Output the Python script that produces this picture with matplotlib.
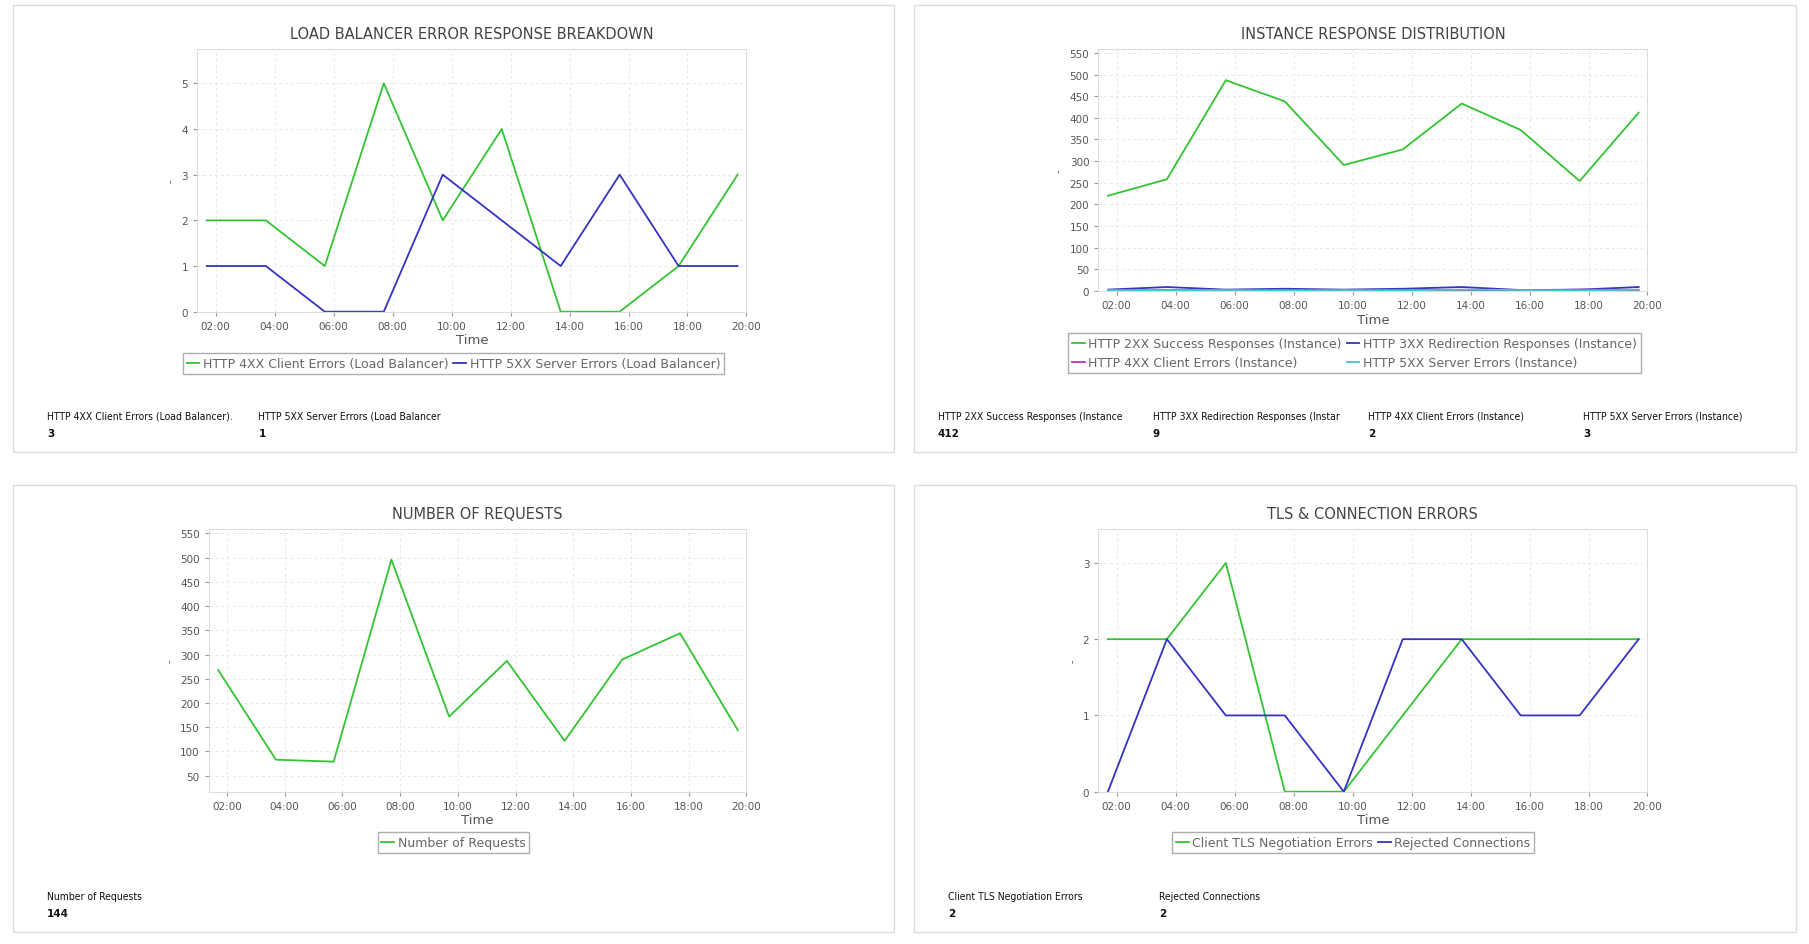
import numpy as np
import matplotlib
matplotlib.use("Agg")
from matplotlib import pyplot as plt
from matplotlib.patches import Rectangle

W, H = 1568.0, 819.0   # layout measured on the scaled reference

hours = np.arange(10) * 2 + 1.7
tick_hours = np.arange(2, 21, 2)
tick_labels = [f"{h:02d}:00" for h in tick_hours]

lb_4xx = [2, 2, 1, 5, 2, 4, 0, 0, 1, 3]
lb_5xx = [1, 1, 0, 0, 3, 2, 1, 3, 1, 1]

inst_2xx = [220, 258, 487, 438, 291, 327, 433, 372, 254, 412]
inst_3xx = [3, 9, 3, 5, 3, 5, 9, 2, 3, 9]
inst_4xx = [1, 2, 1, 2, 1, 2, 2, 1, 3, 2]
inst_5xx = [2, 1, 2, 1, 2, 1, 3, 2, 1, 3]

requests = [268, 83, 79, 496, 172, 287, 122, 290, 344, 144]

tls_err = [2, 2, 3, 0, 0, 1, 2, 2, 2, 2]
rejected = [0, 2, 1, 1, 0, 2, 2, 1, 1, 2]

GREEN, BLUE, MAGENTA, CYAN = "#33c433", "#3333c4", "#c433c4", "#44c4c4"

fig = plt.figure(figsize=(18.09, 9.45), dpi=100)


def fx(x):
    return x / W


def fy(y):
    return 1 - y / H


def panel(x0, y0, x1, y1):
    fig.patches.append(Rectangle((fx(x0), fy(y1)), fx(x1) - fx(x0), fy(y0) - fy(y1),
                                 transform=fig.transFigure, fill=False,
                                 edgecolor="#dddddd", lw=1))


def chart(box, title, series, ylim, yticks, legend_xy, ncol, order=None):
    x0, y0, x1, y1 = box
    ax = fig.add_axes([fx(x0), fy(y1), fx(x1) - fx(x0), fy(y0) - fy(y1)])
    for vals, col, lab in series:
        ax.plot(hours, vals, color=col, lw=1.3, label=lab)
    ax.set_xlim(1.375, 20.0)
    ax.set_ylim(*ylim)
    ax.set_xticks(tick_hours)
    ax.set_xticklabels(tick_labels)
    ax.set_yticks(yticks)
    ax.tick_params(labelsize=7.5, colors="#555555", length=3, color="#999999")
    ax.grid(True, ls=(0, (3, 3)), color="#e8e8e8", lw=0.7)
    for s in ax.spines.values():
        s.set_color("#dddddd")
    ax.set_xlabel("Time", fontsize=9.5, color="#555555", labelpad=2)
    ax.set_ylabel("-", fontsize=7, color="#555555")
    fig.text(fx((x0 + x1) / 2), fy(y0 - 13), title, ha="center", va="center",
             fontsize=10.5, color="#444444")
    handles, labels = ax.get_legend_handles_labels()
    if order:
        handles = [handles[i] for i in order]
        labels = [labels[i] for i in order]
    leg = fig.legend(handles, labels, loc="center",
                     bbox_to_anchor=(fx(legend_xy[0]), fy(legend_xy[1])), ncol=ncol,
                     fontsize=9, frameon=True, fancybox=False, handlelength=1.0,
                     handletextpad=0.3, columnspacing=0.4, borderpad=0.3, labelspacing=0.5)
    leg.get_frame().set_edgecolor("#999999")
    for t in leg.get_texts():
        t.set_color("#666666")
    return ax


def stats(items, y):
    for x, lab, val in items:
        fig.text(fx(x), fy(y), lab, fontsize=7.5, color="#111111", va="center",
                 fontstretch="condensed")
        fig.text(fx(x), fy(y + 15), val, fontsize=7.5, color="#111111", va="center",
                 fontweight="bold")


panel(11, 5, 775, 393)
panel(792, 5, 1557, 393)
panel(11, 421, 775, 809)
panel(792, 421, 1557, 809)

chart((171, 43, 647, 271), "LOAD BALANCER ERROR RESPONSE BREAKDOWN",
      [(lb_4xx, GREEN, "HTTP 4XX Client Errors (Load Balancer)"),
       (lb_5xx, BLUE, "HTTP 5XX Server Errors (Load Balancer)")],
      (0, 5.76), range(0, 6), (393, 316), 2)

chart((952, 43, 1428, 253), "INSTANCE RESPONSE DISTRIBUTION",
      [(inst_2xx, GREEN, "HTTP 2XX Success Responses (Instance)"),
       (inst_3xx, BLUE, "HTTP 3XX Redirection Responses (Instance)"),
       (inst_4xx, MAGENTA, "HTTP 4XX Client Errors (Instance)"),
       (inst_5xx, CYAN, "HTTP 5XX Server Errors (Instance)")],
      (0, 560), range(0, 551, 50), (1174, 307), 2, order=[0, 2, 1, 3])

chart((181, 459, 647, 687), "NUMBER OF REQUESTS",
      [(requests, GREEN, "Number of Requests")],
      (17, 560), range(50, 551, 50), (393, 731), 1)

chart((952, 459, 1428, 687), "TLS & CONNECTION ERRORS",
      [(tls_err, GREEN, "Client TLS Negotiation Errors"),
       (rejected, BLUE, "Rejected Connections")],
      (0, 3.45), range(0, 4), (1173, 731), 2)

stats([(41, "HTTP 4XX Client Errors (Load Balancer).", "3"),
       (224, "HTTP 5XX Server Errors (Load Balancer", "1")], 361)
stats([(813, "HTTP 2XX Success Responses (Instance", "412"),
       (999, "HTTP 3XX Redirection Responses (Instar", "9"),
       (1186, "HTTP 4XX Client Errors (Instance)", "2"),
       (1372, "HTTP 5XX Server Errors (Instance)", "3")], 361)
stats([(41, "Number of Requests", "144")], 777)
stats([(822, "Client TLS Negotiation Errors", "2"),
       (1005, "Rejected Connections", "2")], 777)

fig.savefig("out.png", dpi=100, facecolor="white")
